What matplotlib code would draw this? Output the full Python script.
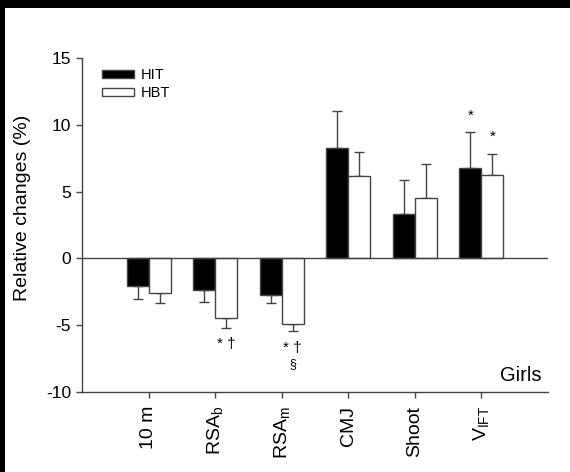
import matplotlib
matplotlib.use('Agg')
import matplotlib.pyplot as plt
import numpy as np

plt.rcParams['font.family'] = ['Liberation Sans', 'DejaVu Sans']
plt.rcParams['mathtext.default'] = 'regular'
plt.rcParams['axes.unicode_minus'] = False

# data
categories = ['10 m', 'RSA$_b$', 'RSA$_m$', 'CMJ', 'Shoot', 'V$_{IFT}$']
hit = [-2.05, -2.35, -2.75, 8.3, 3.35, 6.75]
hit_err = [1.0, 0.9, 0.6, 2.7, 2.5, 2.7]
hbt = [-2.6, -4.45, -4.9, 6.2, 4.5, 6.25]
hbt_err = [0.75, 0.75, 0.5, 1.75, 2.6, 1.6]

fig = plt.figure(figsize=(5.7, 4.72), dpi=100)
fig.patch.set_facecolor('black')
# white canvas with black band at top and left
fig.patches.append(plt.Rectangle((5/570, 0), 1, 1 - 8/472, transform=fig.transFigure,
                                 facecolor='white', edgecolor='none', zorder=-10))
ax = fig.add_axes([82/570, 80/472, 466/570, 334/472])
ax.set_zorder(5)
ax.set_facecolor('white')

x = np.arange(1, len(categories) + 1)
w = 0.33
gray = '#444444'

ax.bar(x - w/2, hit, w, color='black', edgecolor=gray, linewidth=1, label='HIT', zorder=3)
ax.bar(x + w/2, hbt, w, color='white', edgecolor=gray, linewidth=1, label='HBT', zorder=3)

def one_sided(vals, errs):
    lo = [e if v < 0 else 0 for v, e in zip(vals, errs)]
    hi = [e if v >= 0 else 0 for v, e in zip(vals, errs)]
    return [lo, hi]

ax.errorbar(x - w/2, hit, yerr=one_sided(hit, hit_err), fmt='none', ecolor=gray,
            elinewidth=1, capsize=3.6, capthick=1, zorder=2)
ax.errorbar(x + w/2, hbt, yerr=one_sided(hbt, hbt_err), fmt='none', ecolor=gray,
            elinewidth=1, capsize=3.6, capthick=1, zorder=2)

ax.axhline(0, color=gray, linewidth=1, zorder=4)

ax.set_xlim(0, 7)
ax.set_ylim(-10, 15)
ax.set_yticks([-10, -5, 0, 5, 10, 15])
ax.set_xticks(x)
ax.set_xticklabels(categories, rotation=90)
ax.tick_params(axis='both', length=4, width=1, color=gray, direction='out')
ax.tick_params(axis='y', labelsize=12.5, pad=4)
ax.tick_params(axis='x', labelsize=14, pad=6)
for s in ['top', 'right']:
    ax.spines[s].set_visible(False)
for s in ['left', 'bottom']:
    ax.spines[s].set_color(gray)
    ax.spines[s].set_linewidth(1)
ax.set_ylabel('Relative changes (%)', fontsize=14)
ax.yaxis.set_label_coords(-0.11, 0.55)

# significance marks
ax.text(6 - w/2, 10.4, '*', ha='center', fontsize=11)
ax.text(6 + w/2, 8.8, '*', ha='center', fontsize=11)
ax.text(2 + w/2, -6.7, '* \u2020', ha='center', fontsize=11)
ax.text(3 + w/2, -7.0, '* \u2020', ha='center', fontsize=11)
ax.text(3 + w/2, -8.1, '\u00a7', ha='center', fontsize=9)

ax.text(6.9, -9.2, 'Girls', ha='right', fontsize=14.5)

ax.legend(loc='upper left', bbox_to_anchor=(0.02, 1.0), frameon=False, fontsize=10.5,
          handlelength=2.2, handleheight=0.45, labelspacing=0.25, handletextpad=0.5,
          borderaxespad=0.3)

fig.savefig('out.png', dpi=100, facecolor=fig.get_facecolor())
